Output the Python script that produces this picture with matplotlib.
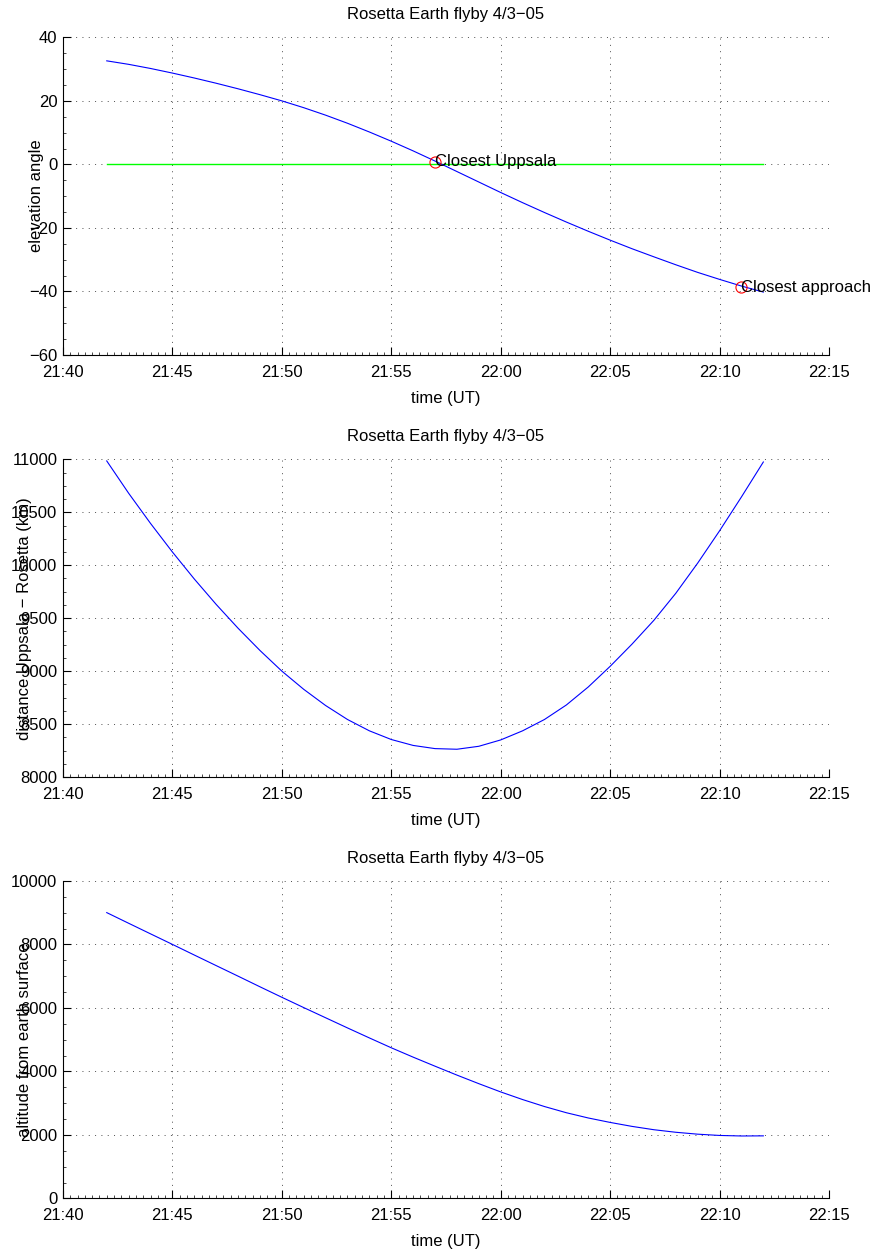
import pandas as pd
import matplotlib
matplotlib.use('Agg')
import matplotlib.pyplot as plt
import matplotlib.dates as mdates
from matplotlib.ticker import MultipleLocator, AutoMinorLocator

plt.rcParams['font.family'] = ['Liberation Sans', 'DejaVu Sans']
plt.rcParams['font.size'] = 12

# Time axis, one sample per minute 21:42 - 22:12 UT, 4 March 2005
times = pd.date_range('2005-03-04 21:42', '2005-03-04 22:12', freq='1min')

# Elevation angle of Rosetta seen from Uppsala (deg)
elevation = [32.6, 31.5, 30.2, 28.75, 27.2, 25.55, 23.8, 21.95, 20.0, 17.85,
             15.5, 12.95, 10.2, 7.3, 4.25, 1.05, -2.25, -5.55, -8.85, -12.05,
             -15.15, -18.15, -21.05, -23.85, -26.55, -29.1, -31.6, -34.0, -36.2,
             -38.3, -40.2]

# Distance Uppsala - Rosetta (km)
distance = [10985, 10680, 10395, 10125, 9870, 9630, 9405, 9195, 9000, 8828,
            8675, 8543, 8436, 8354, 8298, 8268, 8262, 8290, 8350, 8436,
            8543, 8680, 8850, 9045, 9255, 9480, 9735, 10020, 10325, 10645,
            10975]

# Altitude of Rosetta above earth surface (km)
altitude = [9000, 8665, 8332, 8000, 7665, 7332, 7000, 6665, 6335, 6010,
            5690, 5370, 5055, 4745, 4450, 4165, 3885, 3615, 3355, 3115,
            2895, 2700, 2535, 2395, 2270, 2165, 2085, 2025, 1985, 1968,
            1972]

# Marked events in the elevation plot
event_times = pd.to_datetime(['2005-03-04 21:57', '2005-03-04 22:11'])
event_elev = [0.9, -38.6]
event_labels = ['Closest Uppsala', 'Closest approach']

title = 'Rosetta Earth flyby 4/3\u221205'
xmin = pd.Timestamp('2005-03-04 21:40')
xmax = pd.Timestamp('2005-03-04 22:15')

fig = plt.figure(figsize=(8.82, 12.53), dpi=100)
left, width = 0.0714, 0.8685
bottoms = [0.7167, 0.3799, 0.0435]
height = 0.2535
axes = [fig.add_axes([left, b, width, height]) for b in bottoms]


def style_axis(ax, ymin, ymax, ystep, ylabel, label_x):
    ax.set_xlim(xmin, xmax)
    ax.set_ylim(ymin, ymax)
    ax.xaxis.set_major_locator(mdates.MinuteLocator(byminute=range(0, 60, 5)))
    ax.xaxis.set_major_formatter(mdates.DateFormatter('%H:%M'))
    ax.xaxis.set_minor_locator(AutoMinorLocator(15))
    ax.yaxis.set_major_locator(MultipleLocator(ystep))
    ax.yaxis.set_minor_locator(AutoMinorLocator(4))
    ax.spines['top'].set_visible(False)
    ax.spines['right'].set_visible(False)
    for s in ['left', 'bottom']:
        ax.spines[s].set_linewidth(0.8)
    ax.tick_params(which='major', direction='in', length=6, width=0.8,
                   labelsize=12)
    ax.tick_params(axis='x', which='major', pad=7)
    ax.tick_params(axis='y', which='major', pad=4)
    ax.tick_params(which='minor', direction='in', length=2, width=0.5)
    ax.grid(True, which='major', color='0.3', linewidth=0.7,
            linestyle=(0, (1.0, 5.5)))
    ax.set_axisbelow(True)
    ax.set_title(title, fontsize=12, pad=13)
    ax.set_xlabel('time (UT)', fontsize=12, labelpad=8)
    ax.set_ylabel(ylabel, fontsize=12)
    ax.yaxis.set_label_coords(label_x, 0.5)


# Elevation angle
ax = axes[0]
ax.plot(times, [0] * len(times), color='#00ff00', linewidth=1.0)
ax.plot(times, elevation, color='#0000ff', linewidth=0.8)
ax.plot(event_times, event_elev, 'o', color='red', markerfacecolor='none',
        markersize=8, markeredgewidth=0.8, linestyle='none')
for t, e, lab in zip(event_times, event_elev, event_labels):
    ax.text(t, e, lab, ha='left', va='center', fontsize=12)
style_axis(ax, -60, 40, 20, 'elevation angle', -0.025)

# Distance
ax = axes[1]
ax.plot(times, distance, color='#0000ff', linewidth=0.8)
style_axis(ax, 8000, 11000, 500, 'distance Uppsala \u2212 Rosetta (km)', -0.041)

# Altitude
ax = axes[2]
ax.plot(times, altitude, color='#0000ff', linewidth=0.8)
style_axis(ax, 0, 10000, 2000, 'altitude from earth surface', -0.041)

fig.savefig('out.png', dpi=100)
